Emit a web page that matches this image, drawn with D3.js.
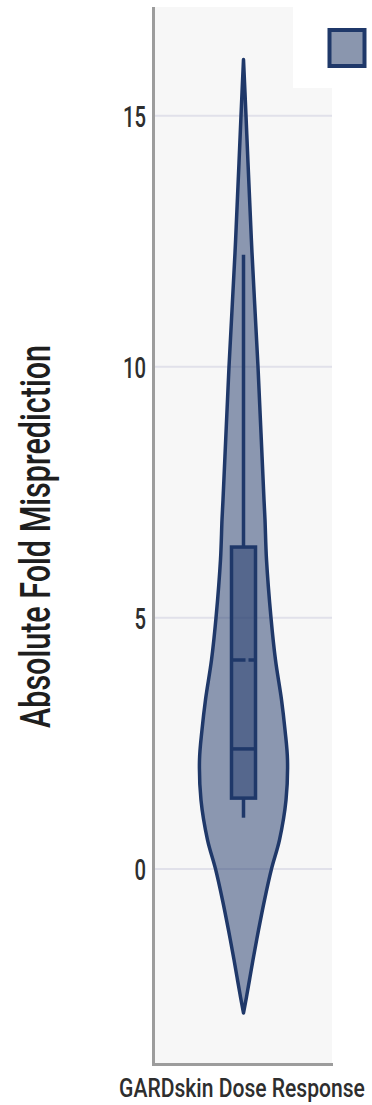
<!DOCTYPE html>
<html>
<head>
<meta charset="utf-8">
<script src="https://cdn.jsdelivr.net/npm/d3@7"></script>
<style>
  html, body { margin: 0; padding: 0; background: #ffffff; }
  svg { display: block; }
  text { font-family: Roboto, "DejaVu Sans Condensed", sans-serif; font-weight: 500; }
</style>
</head>
<body>
<svg id="chart" width="372" height="1105"></svg>
<script>
// ---- data ----
const categories = ["GARDskin Dose Response"];
const yTicks = [0, 5, 10, 15];

// Kernel density profile of the distribution (value -> relative density)
const kdeValues  = [-2.87, -2.55, -2.21, -1.81, -1.22, -0.62, 0, 0.58, 1.37, 2.17, 2.77, 3.37, 4.16, 5.0, 6.16, 6.95, 7.35, 8.55, 10.0, 12.27, 14.06, 15.0, 16.12];
const kdeDensity = [0, 3, 6, 9.5, 15, 21, 28, 36, 42.5, 44, 41.5, 38, 32, 27.5, 23, 21.5, 20.5, 17.8, 14.5, 8.5, 4.5, 2.5, 0];

// Box summary: quartiles, whisker ends, mean
const boxQuartiles = [1.41, 2.39, 6.41];   // Q1, median, Q3
const whiskerEnds  = [1.02, 12.23];        // lower, upper fence
const meanValue    = [4.16];

const yDomain = [-3.885, 17.165];

// ---- layout ----
const plot = { left: 155, right: 332, top: 7, bottom: 1064 };
const stroke = "#1f3869";
const textColor = "#2e2e2e";

const svg = d3.select("#chart");

const y = d3.scaleLinear().domain(yDomain).range([plot.bottom, plot.top]);
const x = d3.scaleBand().domain(categories).range([plot.left, plot.right]);
const halfWidth = d3.scaleLinear().domain([0, d3.max(kdeDensity)]).range([0, 44]);

// condensed-looking text: size the font to the wanted width, then stretch vertically
function condensed(sel, width, capSize) {
  sel.attr("font-size", 20);
  const natural = sel.node().getComputedTextLength();
  const fs = 20 * width / natural;
  const sy = capSize / fs;
  sel.attr("font-size", fs);
  return sy;
}

// plot background
svg.append("rect")
  .attr("x", plot.left).attr("y", plot.top)
  .attr("width", plot.right - plot.left).attr("height", plot.bottom - plot.top)
  .attr("fill", "#f7f7f7");

// gridlines
svg.append("g").selectAll("line").data(yTicks).join("line")
  .attr("x1", plot.left).attr("x2", plot.right)
  .attr("y1", d => y(d)).attr("y2", d => y(d))
  .attr("stroke", "#e1e1ea").attr("stroke-width", 2);

// y axis tick labels
const yAxis = svg.append("g")
  .attr("transform", `translate(${plot.left - 2},0)`)
  .call(d3.axisLeft(y).tickValues(yTicks).tickSize(0).tickPadding(7).tickFormat(d3.format("d")));
yAxis.select(".domain").remove();
yAxis.selectAll("text")
  .attr("font-size", 30)
  .attr("fill", textColor)
  .attr("dy", "0.36em")
  .attr("textLength", d => String(d).length * 11.5)
  .attr("lengthAdjust", "spacingAndGlyphs")
  .style("font-family", null);

// axis lines
svg.append("line")
  .attr("x1", plot.left - 1.5).attr("x2", plot.left - 1.5)
  .attr("y1", plot.top).attr("y2", plot.bottom + 1.5)
  .attr("stroke", "#9c9c9c").attr("stroke-width", 3);
svg.append("line")
  .attr("x1", plot.left - 3).attr("x2", plot.right + 1)
  .attr("y1", plot.bottom + 0.5).attr("y2", plot.bottom + 0.5)
  .attr("stroke", "#9c9c9c").attr("stroke-width", 3);

// violin
const cx = x(categories[0]) + x.bandwidth() / 2;
const profile = kdeValues.map((v, i) => ({ v, d: kdeDensity[i] }));
const violinArea = d3.area()
  .x0(p => cx - halfWidth(p.d))
  .x1(p => cx + halfWidth(p.d))
  .y(p => y(p.v))
  .curve(d3.curveCatmullRom.alpha(0.5));

svg.append("path")
  .datum(profile)
  .attr("d", violinArea)
  .attr("fill", stroke).attr("fill-opacity", 0.5)
  .attr("stroke", stroke).attr("stroke-width", 3.5)
  .attr("stroke-linejoin", "round");

// box inside the violin
const boxHalf = 12;
const g = svg.append("g");
g.append("line")
  .attr("x1", cx).attr("x2", cx)
  .attr("y1", y(whiskerEnds[1])).attr("y2", y(boxQuartiles[2]))
  .attr("stroke", stroke).attr("stroke-width", 3.5);
g.append("line")
  .attr("x1", cx).attr("x2", cx)
  .attr("y1", y(boxQuartiles[0])).attr("y2", y(whiskerEnds[0]))
  .attr("stroke", stroke).attr("stroke-width", 3.5);
g.append("rect")
  .attr("x", cx - boxHalf).attr("width", boxHalf * 2)
  .attr("y", y(boxQuartiles[2])).attr("height", y(boxQuartiles[0]) - y(boxQuartiles[2]))
  .attr("fill", stroke).attr("fill-opacity", 0.5)
  .attr("stroke", stroke).attr("stroke-width", 3.5);
g.append("line")
  .attr("x1", cx - boxHalf).attr("x2", cx + boxHalf)
  .attr("y1", y(boxQuartiles[1])).attr("y2", y(boxQuartiles[1]))
  .attr("stroke", stroke).attr("stroke-width", 3.5);
g.selectAll(".mean").data(meanValue).join("line")
  .attr("x1", cx - boxHalf).attr("x2", cx + boxHalf)
  .attr("y1", d => y(d)).attr("y2", d => y(d))
  .attr("stroke", stroke).attr("stroke-width", 3.5)
  .attr("stroke-dasharray", "14,3");

// category label
const catLabel = svg.append("text")
  .attr("text-anchor", "middle")
  .attr("fill", textColor)
  .text(categories[0]);
const catScale = condensed(catLabel, 246, 26);
catLabel.attr("transform", `translate(${cx - 1.5},1097) scale(1,${catScale})`);

// y axis title
svg.append("text")
  .attr("transform", `translate(50,${536.5}) rotate(-90)`)
  .attr("text-anchor", "middle")
  .attr("font-size", 42)
  .attr("fill", "#1e1e1e")
  .attr("textLength", 383).attr("lengthAdjust", "spacingAndGlyphs")
  .text("Absolute Fold Misprediction");

// legend
const legend = svg.append("g");
legend.append("rect")
  .attr("x", 293).attr("y", 0).attr("width", 79).attr("height", 88)
  .attr("fill", "#ffffff");
legend.append("rect")
  .attr("x", 329.5).attr("y", 30).attr("width", 35).attr("height", 36)
  .attr("fill", "#8a96ae")
  .attr("stroke", stroke).attr("stroke-width", 4);
</script>
</body>
</html>
